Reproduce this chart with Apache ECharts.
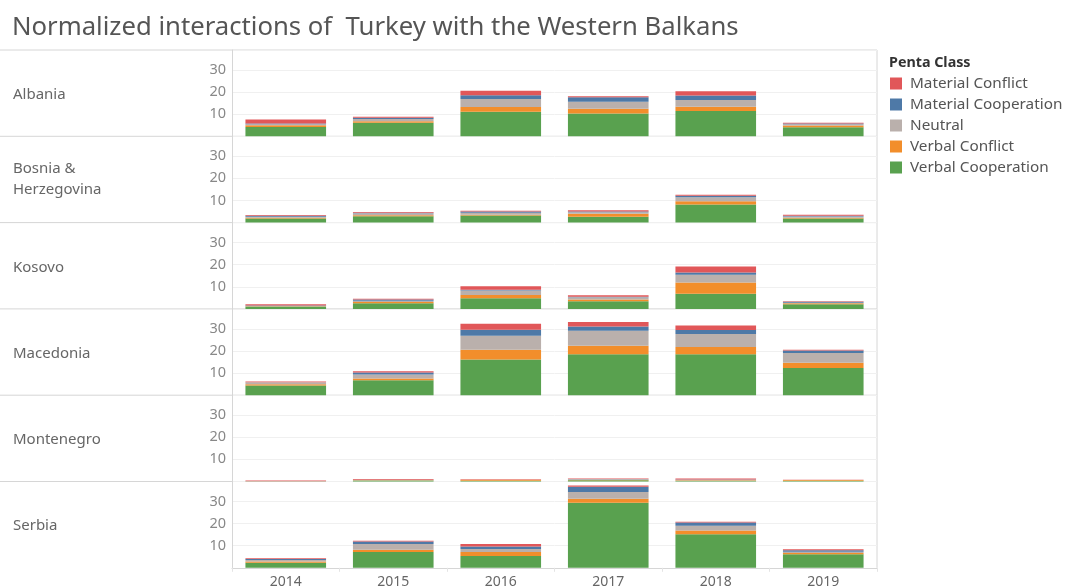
<!DOCTYPE html>
<html>
<head>
<meta charset="utf-8">
<title>Normalized interactions of Turkey with the Western Balkans</title>
<script src="https://cdn.jsdelivr.net/npm/echarts@6/dist/echarts.min.js"></script>
<style>
  html, body { margin: 0; padding: 0; background: #fff; }
  #chart { width: 1065px; height: 586px; }
</style>
</head>
<body>
<div id="chart"></div>
<script>
// categories
const years = ['2014', '2015', '2016', '2017', '2018', '2019']
const countries = ['Albania', 'Bosnia &\nHerzegovina', 'Kosovo', 'Macedonia', 'Montenegro', 'Serbia']
const yTicks = [10, 20, 30]

// one row per country (same order as countries), one value per year
const verbalCooperation = [
  [4.2, 6.1, 11.1, 10.3, 11.4, 4.1],
  [1.8, 2.9, 3.2, 2.6, 8.2, 1.8],
  [1.1, 2.6, 4.8, 3.5, 6.8, 2.1],
  [4.4, 6.7, 16.1, 18.5, 18.5, 12.3],
  [0.1, 0.5, 0.3, 0.6, 0.3, 0.3],
  [2.3, 7.1, 5.3, 29.4, 15.2, 6.1]
]
const verbalConflict = [
  [0.8, 0.7, 2.1, 2.1, 2.0, 0.8],
  [0.4, 0.4, 0.4, 1.4, 1.5, 0.4],
  [0.1, 0.5, 1.5, 0.8, 5.1, 0.5],
  [0.6, 0.9, 4.4, 3.8, 3.3, 2.4],
  [0.0, 0.1, 0.5, 0.2, 0.3, 0.4],
  [0.6, 1.1, 1.8, 1.8, 1.7, 0.6]
]
const neutral = [
  [0.4, 1.0, 3.6, 3.2, 3.0, 0.5],
  [0.5, 0.9, 0.8, 0.7, 1.7, 0.6],
  [0.1, 0.6, 2.0, 1.0, 3.5, 0.2],
  [0.8, 1.8, 6.4, 6.8, 5.9, 4.4],
  [0.0, 0.2, 0.0, 0.2, 0.2, 0.0],
  [0.6, 2.6, 1.4, 3.0, 2.1, 0.6]
]
const materialCooperation = [
  [0.4, 0.6, 1.8, 2.0, 2.0, 0.4],
  [0.4, 0.3, 0.6, 0.3, 0.7, 0.3],
  [0.2, 0.5, 0.4, 0.2, 1.1, 0.4],
  [0.1, 0.9, 2.7, 2.0, 1.8, 1.1],
  [0.0, 0.0, 0.0, 0.1, 0.1, 0.0],
  [0.5, 1.1, 1.1, 2.4, 1.5, 0.6]
]
const materialConflict = [
  [1.8, 0.4, 2.0, 0.5, 2.0, 0.3],
  [0.3, 0.3, 0.4, 0.6, 0.5, 0.4],
  [0.6, 0.4, 1.5, 0.7, 2.7, 0.3],
  [0.3, 0.5, 2.7, 2.0, 2.0, 0.3],
  [0.4, 0.3, 0.2, 0.3, 0.5, 0.1],
  [0.3, 0.3, 1.2, 0.6, 0.3, 0.5]
]

// stacked bottom -> top
const classes = [
  { name: 'Verbal Cooperation', color: '#59a14f', data: verbalCooperation },
  { name: 'Verbal Conflict', color: '#f28e2b', data: verbalConflict },
  { name: 'Neutral', color: '#bab0ac', data: neutral },
  { name: 'Material Cooperation', color: '#4e79a7', data: materialCooperation },
  { name: 'Material Conflict', color: '#e15759', data: materialConflict }
]

const FONT = '"Noto Sans", "Open Sans", sans-serif'
const plotLeft = 232
const plotRight = 877
const top0 = 50
const panelH = 86.3
const lineColor = '#d6d6d6'

const chart = echarts.init(document.getElementById('chart'))

const grids = []
const xAxes = []
const yAxes = []
const series = []
const graphics = []

countries.forEach((c, i) => {
  grids.push({
    left: plotLeft,
    width: plotRight - plotLeft,
    top: top0 + i * panelH,
    height: panelH,
    outerBoundsMode: 'none'
  })
  const last = i === countries.length - 1
  xAxes.push({
    type: 'category',
    gridIndex: i,
    data: years,
    axisLine: { show: last, lineStyle: { color: lineColor } },
    axisTick: { show: last, alignWithLabel: false, length: 4, lineStyle: { color: '#e4e4e4' } },
    axisLabel: { show: last, color: '#666', fontSize: 14, fontFamily: FONT, margin: 7 }
  })
  yAxes.push({
    type: 'value',
    gridIndex: i,
    min: 0,
    max: 39,
    interval: 10,
    axisLine: { show: true, lineStyle: { color: lineColor } },
    axisTick: { show: false },
    splitLine: { lineStyle: { color: '#f0f0f0' } },
    axisLabel: {
      color: '#888',
      fontSize: 14.5,
      fontFamily: FONT,
      margin: 6,
      formatter: v => (yTicks.indexOf(v) >= 0 ? String(v) : '')
    }
  })
  classes.forEach(k => {
    series.push({
      name: k.name,
      type: 'bar',
      xAxisIndex: i,
      yAxisIndex: i,
      stack: 'p' + i,
      barCategoryGap: '25%',
      itemStyle: { color: k.color },
      emphasis: { disabled: true },
      data: k.data[i]
    })
  })

  // country header
  graphics.push({
    type: 'text',
    left: 13,
    top: top0 + i * panelH + panelH / 2 - (c.indexOf('\n') >= 0 ? 21 : 9),
    style: { text: c, fill: '#666', font: '15px ' + FONT, lineHeight: 21 }
  })
  // row separator
  graphics.push({
    type: 'line',
    shape: { x1: 0, y1: top0 + i * panelH, x2: plotRight, y2: top0 + i * panelH },
    style: { stroke: lineColor, lineWidth: 1 }
  })
})

graphics.push({
  type: 'line',
  shape: { x1: plotRight, y1: top0, x2: plotRight, y2: top0 + 6 * panelH },
  style: { stroke: lineColor, lineWidth: 1 }
})
graphics.push({
  type: 'text',
  left: 889,
  top: 56,
  style: { text: 'Penta Class', fill: '#333', font: 'bold 14.3px ' + FONT }
})

chart.setOption({
  animation: false,
  title: {
    text: 'Normalized interactions of  Turkey with the Western Balkans',
    left: 7,
    top: 10,
    textStyle: { fontSize: 25.7, fontWeight: 'normal', color: '#555', fontFamily: FONT }
  },
  legend: {
    orient: 'vertical',
    left: 885,
    top: 71,
    itemWidth: 12,
    itemHeight: 12,
    itemGap: 6,
    icon: 'rect',
    selectedMode: false,
    textStyle: { fontSize: 15.3, color: '#555', fontFamily: FONT, padding: [0, 0, 0, 3] },
    data: ['Material Conflict', 'Material Cooperation', 'Neutral', 'Verbal Conflict', 'Verbal Cooperation']
  },
  grid: grids,
  xAxis: xAxes,
  yAxis: yAxes,
  series: series,
  graphic: graphics
})
</script>
</body>
</html>
